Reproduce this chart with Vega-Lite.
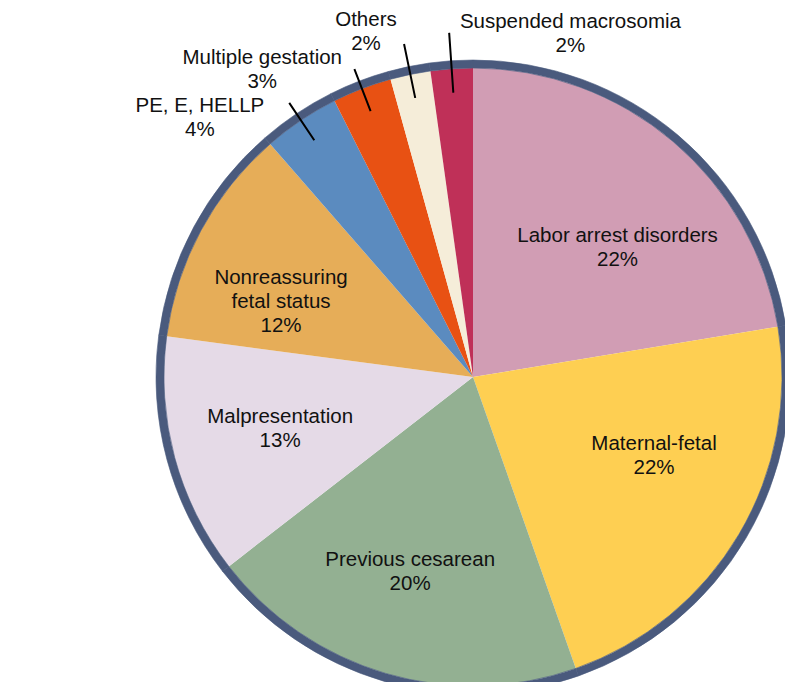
{
  "$schema": "https://vega.github.io/schema/vega-lite/v6.json",
  "width": 624,
  "height": 610,
  "autosize": {"type": "none"},
  "padding": {"left": 161, "top": 72, "right": 0, "bottom": 0},
  "background": "white",
  "config": {
    "view": {"stroke": null},
    "text": {"font": "Liberation Sans", "fontSize": 20.5, "lineHeight": 24, "lineBreak": "\n", "color": "#111111", "align": "center", "baseline": "middle"}
  },
  "data": {
    "values": [
      {"idx": 1, "cause": "Labor arrest disorders", "value": 22.4, "label": "Labor arrest disorders\n22%"},
      {"idx": 2, "cause": "Maternal-fetal", "value": 22.2, "label": "Maternal-fetal\n22%"},
      {"idx": 3, "cause": "Previous cesarean", "value": 19.9, "label": "Previous cesarean\n20%"},
      {"idx": 4, "cause": "Malpresentation", "value": 12.6, "label": "Malpresentation\n13%"},
      {"idx": 5, "cause": "Nonreassuring fetal status", "value": 11.5, "label": "Nonreassuring\nfetal status\n12%"},
      {"idx": 6, "cause": "PE, E, HELLP", "value": 4.0, "label": "PE, E, HELLP\n4%"},
      {"idx": 7, "cause": "Multiple gestation", "value": 3.1, "label": "Multiple gestation\n3%"},
      {"idx": 8, "cause": "Others", "value": 2.1, "label": "Others\n2%"},
      {"idx": 9, "cause": "Suspended macrosomia", "value": 2.2, "label": "Suspended macrosomia\n2%"}
    ]
  },
  "encoding": {
    "theta": {"field": "value", "type": "quantitative", "stack": true},
    "order": {"field": "idx", "type": "quantitative"},
    "detail": {"field": "cause", "type": "nominal"}
  },
  "layer": [
    {
      "mark": {"type": "arc", "outerRadius": 309},
      "encoding": {
        "color": {
          "field": "cause",
          "type": "nominal",
          "legend": null,
          "scale": {
            "domain": ["Labor arrest disorders", "Maternal-fetal", "Previous cesarean", "Malpresentation", "Nonreassuring fetal status", "PE, E, HELLP", "Multiple gestation", "Others", "Suspended macrosomia"],
            "range": ["#D19DB4", "#FECF52", "#93B092", "#E5DAE7", "#E6AD58", "#5B8BBF", "#E85113", "#F5EDD9", "#BF3058"]
          }
        }
      }
    },
    {
      "mark": {"type": "arc", "innerRadius": 309, "outerRadius": 317, "fill": "#4A5A7D", "stroke": "#4A5A7D", "strokeWidth": 0.6}
    },
    {
      "mark": {"type": "arc", "innerRadius": 285, "outerRadius": 330, "padAngle": 1.5, "fillOpacity": 0, "stroke": "#000000", "strokeWidth": 2},
      "encoding": {"strokeOpacity": {"condition": {"test": "datum.cause === 'PE, E, HELLP'", "value": 1}, "value": 0}}
    },
    {
      "mark": {"type": "arc", "innerRadius": 285, "outerRadius": 330, "padAngle": 1.5, "fillOpacity": 0, "stroke": "#000000", "strokeWidth": 2},
      "encoding": {"strokeOpacity": {"condition": {"test": "datum.cause === 'Multiple gestation'", "value": 1}, "value": 0}}
    },
    {
      "mark": {"type": "arc", "innerRadius": 285, "outerRadius": 340, "padAngle": 1.5, "fillOpacity": 0, "stroke": "#000000", "strokeWidth": 2},
      "encoding": {"strokeOpacity": {"condition": {"test": "datum.cause === 'Others'", "value": 1}, "value": 0}}
    },
    {
      "mark": {"type": "arc", "innerRadius": 285, "outerRadius": 345, "padAngle": 1.5, "fillOpacity": 0, "stroke": "#000000", "strokeWidth": 2},
      "encoding": {"strokeOpacity": {"condition": {"test": "datum.cause === 'Suspended macrosomia'", "value": 1}, "value": 0}}
    },
    {
      "mark": {"type": "text", "radius": 202, "thetaOffset": 0.094},
      "encoding": {"text": {"condition": {"test": "datum.cause === 'Labor arrest disorders'", "field": "label", "type": "nominal"}, "value": ""}}
    },
    {
      "mark": {"type": "text", "radius": 193, "thetaOffset": -0.18},
      "encoding": {"text": {"condition": {"test": "datum.cause === 'Maternal-fetal'", "field": "label", "type": "nominal"}, "value": ""}}
    },
    {
      "mark": {"type": "text", "radius": 193.5, "thetaOffset": 0.045},
      "encoding": {"text": {"condition": {"test": "datum.cause === 'Previous cesarean'", "field": "label", "type": "nominal"}, "value": ""}}
    },
    {
      "mark": {"type": "text", "radius": 197, "thetaOffset": 0.059},
      "encoding": {"text": {"condition": {"test": "datum.cause === 'Malpresentation'", "field": "label", "type": "nominal"}, "value": ""}}
    },
    {
      "mark": {"type": "text", "radius": 216, "thetaOffset": -0.017},
      "encoding": {"text": {"condition": {"test": "datum.cause === 'Nonreassuring fetal status'", "field": "label", "type": "nominal"}, "value": ""}}
    },
    {
      "mark": {"type": "text", "radius": 384.7, "thetaOffset": -0.199},
      "encoding": {"text": {"condition": {"test": "datum.cause === 'PE, E, HELLP'", "field": "label", "type": "nominal"}, "value": ""}}
    },
    {
      "mark": {"type": "text", "radius": 382.5, "thetaOffset": -0.216},
      "encoding": {"text": {"condition": {"test": "datum.cause === 'Multiple gestation'", "field": "label", "type": "nominal"}, "value": ""}}
    },
    {
      "mark": {"type": "text", "radius": 372.7, "thetaOffset": -0.087},
      "encoding": {"text": {"condition": {"test": "datum.cause === 'Others'", "field": "label", "type": "nominal"}, "value": ""}}
    },
    {
      "mark": {"type": "text", "radius": 368, "thetaOffset": 0.337},
      "encoding": {"text": {"condition": {"test": "datum.cause === 'Suspended macrosomia'", "field": "label", "type": "nominal"}, "value": ""}}
    }
  ]
}
